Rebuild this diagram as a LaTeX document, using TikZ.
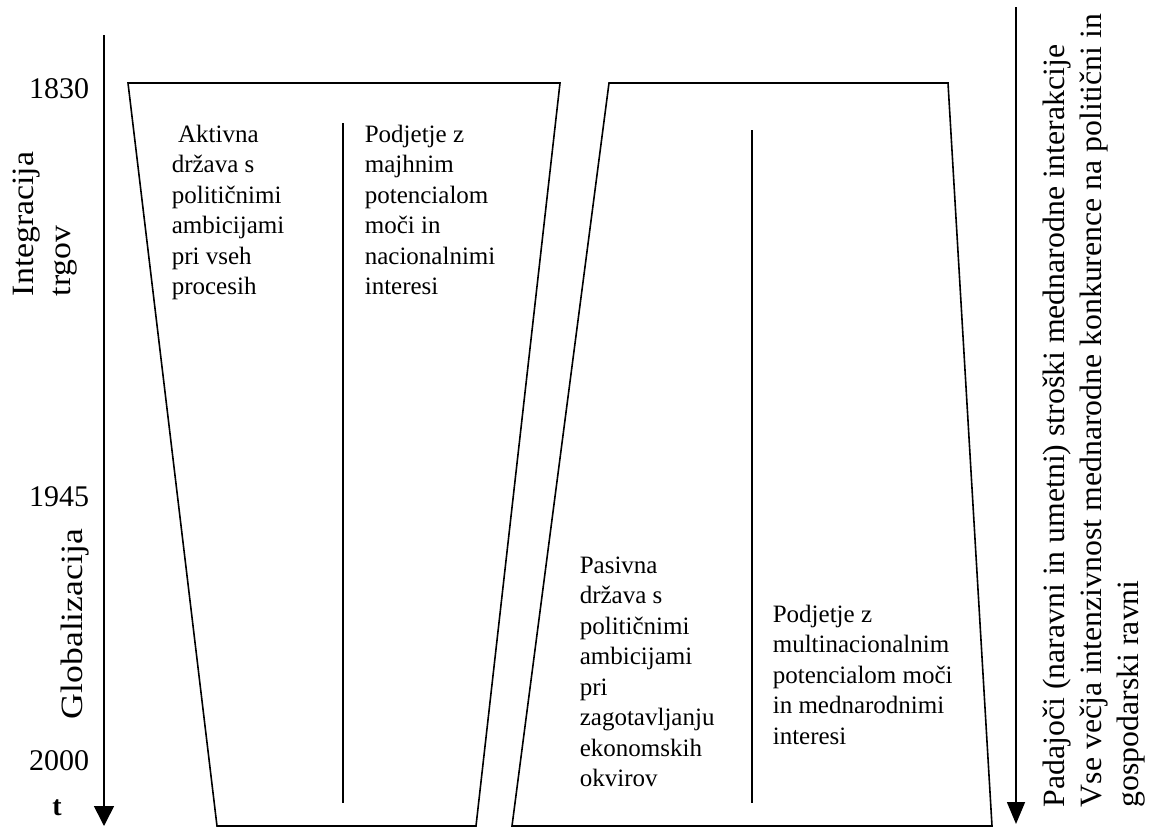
\documentclass[tikz,border=0pt]{standalone}
\usepackage{fontspec}
\setmainfont{Liberation Serif}
\usetikzlibrary{arrows.meta}

\begin{document}
\begin{tikzpicture}[x=1pt,y=-1pt,line width=1.6pt,
    boxtext/.style={font=\fontsize{25}{30.5}\selectfont,align=left,anchor=north west,inner sep=0pt},
    year/.style={font=\fontsize{30}{36}\selectfont,anchor=base east,inner sep=0pt},
    sidetext/.style={font=\fontsize{31}{37}\selectfont,align=left,anchor=north west,inner sep=0pt,rotate=90,transform shape}]
    \useasboundingbox (0,0) rectangle (1149,827);
    % time axis on the left
    \coordinate (tstart) at (104,35);
    \coordinate (tend) at (104,826);
    \draw [-{Triangle[width=20pt,length=20pt]}] (tstart) -- (tend);
    \node [year] (y1830) at (90,98) {1830};
    \node [year] (y1945) at (90,506) {1945};
    \node [year] (y2000) at (90,770) {2000};
    \node [font=\fontsize{28}{34}\selectfont\bfseries,anchor=base,inner sep=0pt] (tlab) at (57,815) {t};
    \node [sidetext,xscale=1.09] (integ) at (12,297) {Integracija\\trgov};
    \node [sidetext,xscale=1.15] (glob) at (60,720) {Globalizacija};
    % first block
    \draw (128,83) -- (560,83) -- (476,826) -- (217,826) -- cycle;
    \coordinate (la) at (343,123);
    \coordinate (lb) at (343,803);
    \draw (la) -- (lb);
    \node [boxtext] (aktiv) at (171,124) {\ Aktivna\\država s\\političnimi\\ambicijami\\pri vseh\\procesih};
    \node [boxtext] (podj1) at (364,124) {Podjetje z\\majhnim\\potencialom\\moči in\\nacionalnimi\\interesi};
    % second block
    \draw (609,83) -- (948,83) -- (992,826) -- (512,826) -- cycle;
    \coordinate (lc) at (752,130);
    \coordinate (ld) at (752,803);
    \draw (lc) -- (ld);
    \node [boxtext] (pasiv) at (579,556) {Pasivna\\država s\\političnimi\\ambicijami\\pri\\zagotavljanju\\ekonomskih\\okvirov};
    \node [boxtext] (podj2) at (772,604) {Podjetje z\\multinacionalnim\\potencialom moči\\in mednarodnimi\\interesi};
    % arrow on the right
    \coordinate (rstart) at (1016,7);
    \coordinate (rend) at (1016,824);
    \draw [-{Triangle[width=18pt,length=22pt]}] (rstart) -- (rend);
    \node [sidetext,xscale=1.025] (cost) at (1042,808) {Padajoči (naravni in umetni) stroški mednarodne interakcije\\Vse večja intenzivnost mednarodne konkurence na politični in\\gospodarski ravni};
\end{tikzpicture}
\end{document}
